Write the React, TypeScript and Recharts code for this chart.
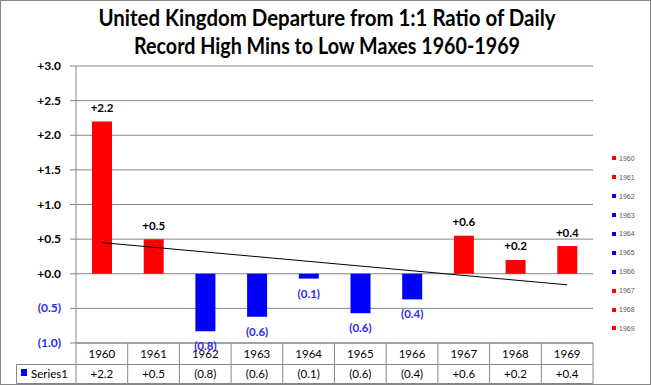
import React from 'react';
import {
  ComposedChart,
  Bar,
  Line,
  XAxis,
  YAxis,
  CartesianGrid,
  Cell,
  LabelList,
  Legend,
  Customized,
} from 'recharts';

// ---- data ----
const years = ['1960', '1961', '1962', '1963', '1964', '1965', '1966', '1967', '1968', '1969'];
const departures = [2.2, 0.5, -0.83, -0.62, -0.07, -0.57, -0.37, 0.55, 0.2, 0.4];
const valueLabels = ['+2.2', '+0.5', '(0.8)', '(0.6)', '(0.1)', '(0.6)', '(0.4)', '+0.6', '+0.2', '+0.4'];
const trendline: (number | null)[] = [0.45, null, null, null, null, null, null, null, null, -0.16];
const yTicks = [-1, -0.5, 0, 0.5, 1, 1.5, 2, 2.5, 3];
const yTickLabels = ['(1.0)', '(0.5)', '+0.0', '+0.5', '+1.0', '+1.5', '+2.0', '+2.5', '+3.0'];
const seriesName = 'Series1';
const titleLines = ['United Kingdom Departure from 1:1 Ratio of Daily', 'Record High Mins to Low Maxes 1960-1969'];

const data = years.map((year, i) => ({
  year,
  value: departures[i],
  trend: trendline[i],
}));

// ---- layout / style ----
const W = 651;
const H = 385;
const PLOT_LEFT = 76;
const PLOT_RIGHT = 593;
const PLOT_TOP = 66;
const PLOT_BOTTOM = 343;
const BAND = (PLOT_RIGHT - PLOT_LEFT) / years.length;
const GRID = '#868686';
const RED = '#FF0000';
const BLUE = '#0000FF';
const BLUE_TEXT = '#2B2BF0';
const FONT = 'Lato, "Open Sans", sans-serif';

const YTick = (props: any) => {
  const { x, y, payload } = props;
  const idx = yTicks.indexOf(payload.value);
  const label = idx >= 0 ? yTickLabels[idx] : String(payload.value);
  return (
    <text
      x={x}
      y={y}
      dy={4}
      textAnchor="end"
      fontFamily={FONT}
      fontWeight={700}
      fontSize={12}
      fill={payload.value < 0 ? BLUE_TEXT : '#000'}
    >
      {label}
    </text>
  );
};

const TableTick = (props: any) => {
  const { x, payload } = props;
  const i = years.indexOf(String(payload.value));
  const l = x - BAND / 2;
  const r = x + BAND / 2;
  const top = PLOT_BOTTOM;
  const mid = top + 21.5;
  const bot = top + 40.5;
  return (
    <g>
      <line x1={r} y1={top} x2={r} y2={bot} stroke={GRID} strokeWidth={1} />
      {i === 0 && <line x1={l} y1={top} x2={l} y2={bot} stroke={GRID} strokeWidth={1} />}
      <line x1={l} y1={mid} x2={r} y2={mid} stroke={GRID} strokeWidth={1} />
      <line x1={l} y1={bot} x2={r} y2={bot} stroke={GRID} strokeWidth={1} />
      <text x={x} y={top + 15} textAnchor="middle" fontFamily={FONT} fontSize={11.5} fill="#000">
        {payload.value}
      </text>
      <text x={x} y={top + 35} textAnchor="middle" fontFamily={FONT} fontSize={11.5} fill="#000">
        {i >= 0 ? valueLabels[i] : ''}
      </text>
      {i === 0 && (
        <g>
          <line x1={16.5} y1={mid} x2={l} y2={mid} stroke={GRID} strokeWidth={1} />
          <line x1={16.5} y1={mid} x2={16.5} y2={bot} stroke={GRID} strokeWidth={1} />
          <line x1={16.5} y1={bot} x2={l} y2={bot} stroke={GRID} strokeWidth={1} />
          <rect x={21} y={369} width={6} height={7} fill={BLUE} />
          <text x={31} y={top + 35} fontFamily={FONT} fontSize={11.5} fill="#000">
            {seriesName}
          </text>
        </g>
      )}
    </g>
  );
};

const BarLabel = (props: any) => {
  const { x, y, width, height, index } = props;
  const v = departures[index];
  const topY = Math.min(y, y + height);
  const botY = Math.max(y, y + height);
  const cx = x + width / 2;
  if (v >= 0) {
    return (
      <text x={cx} y={topY - 9.5} textAnchor="middle" fontFamily={FONT} fontWeight={700} fontSize={11.5} fill="#000">
        {valueLabels[index]}
      </text>
    );
  }
  return (
    <text x={cx} y={botY + 19} textAnchor="middle" fontFamily={FONT} fontWeight={700} fontSize={11.5} fill={BLUE_TEXT}>
      {valueLabels[index]}
    </text>
  );
};

const Title = () => (
  <g>
    <text x={327} y={26} textAnchor="middle" fontFamily={FONT} fontWeight={700} fontSize={22} fill="#000"
      textLength={457} lengthAdjust="spacingAndGlyphs">
      {titleLines[0]}
    </text>
    <text x={327} y={53.5} textAnchor="middle" fontFamily={FONT} fontWeight={700} fontSize={22} fill="#000"
      textLength={386} lengthAdjust="spacingAndGlyphs">
      {titleLines[1]}
    </text>
  </g>
);

const LegendList = () => (
  <div style={{ position: 'relative', width: 40, height: 190 }}>
    {years.map((yr, i) => (
      <div
        key={yr}
        style={{
          position: 'absolute',
          left: 0,
          top: 158.3 + 18.9 * i - 150 - 5,
          height: 10,
          display: 'flex',
          alignItems: 'center',
          fontFamily: '"Liberation Sans", Arial, sans-serif',
          fontSize: 7,
          color: '#595959',
          whiteSpace: 'nowrap',
        }}
      >
        <span
          style={{
            display: 'inline-block',
            width: 4,
            height: 4,
            background: departures[i] >= 0 ? RED : BLUE,
            marginRight: 3,
          }}
        />
        {yr}
      </div>
    ))}
  </div>
);

export default function App() {
  return (
    <div style={{ position: 'absolute', left: 0, top: 0, width: W, height: H, background: '#fff' }}>
      <ComposedChart
        width={W}
        height={H}
        data={data}
        margin={{ top: PLOT_TOP, right: W - PLOT_RIGHT, bottom: 0, left: 0 }}
      >
        <CartesianGrid vertical={false} stroke={GRID} strokeWidth={1} />
        <XAxis
          dataKey="year"
          height={H - PLOT_BOTTOM}
          interval={0}
          tickLine={false}
          tickSize={0}
          tickMargin={0}
          axisLine={{ stroke: GRID }}
          tick={<TableTick />}
        />
        <YAxis
          width={PLOT_LEFT}
          domain={[-1, 3]}
          ticks={yTicks}
          interval={0}
          allowDataOverflow
          tickSize={6}
          tickMargin={9}
          tickLine={{ stroke: GRID }}
          axisLine={{ stroke: GRID }}
          tick={<YTick />}
        />
        <Legend
          layout="horizontal"
          verticalAlign="middle"
          align="center"
          wrapperStyle={{ left: 612, top: 150, width: 40, height: 190 }}
          content={() => <LegendList />}
        />
        <Bar dataKey="value" barSize={20} isAnimationActive={false} name={seriesName}>
          {data.map((d) => (
            <Cell key={d.year} fill={d.value >= 0 ? RED : BLUE} />
          ))}
          <LabelList dataKey="value" content={<BarLabel />} />
        </Bar>
        <Line
          dataKey="trend"
          connectNulls
          stroke="#000"
          strokeWidth={1}
          dot={false}
          activeDot={false}
          legendType="none"
          isAnimationActive={false}
        />
        <Customized component={Title} />
      </ComposedChart>
      <div
        style={{
          position: 'absolute',
          left: 0,
          top: 0,
          width: W,
          height: H,
          boxSizing: 'border-box',
          border: `1px solid ${GRID}`,
          pointerEvents: 'none',
        }}
      />
    </div>
  );
}
